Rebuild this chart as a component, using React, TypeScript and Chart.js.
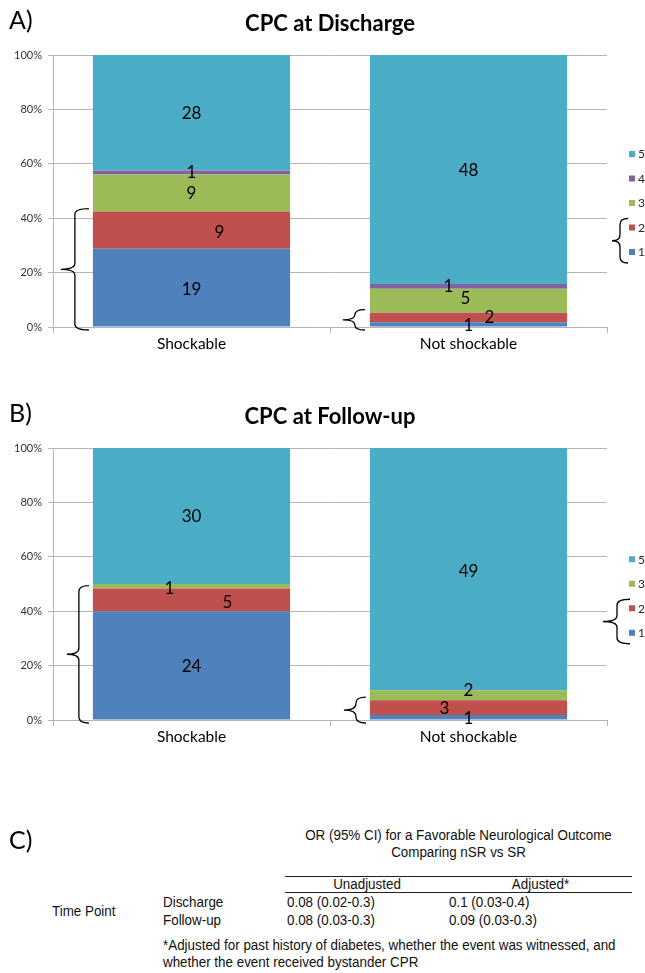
import React, { useEffect, useRef } from "react";
import { Chart, registerables } from "chart.js";
Chart.register(...registerables);

// ---------- data ----------
const categories = ["Shockable", "Not shockable"];
const yTickLabels = ["0%", "20%", "40%", "60%", "80%", "100%"];

const dischargeLevels = ["1", "2", "3", "4", "5"];
const dischargeCpc1 = [19, 1];
const dischargeCpc2 = [9, 2];
const dischargeCpc3 = [9, 5];
const dischargeCpc4 = [1, 1];
const dischargeCpc5 = [28, 48];

const followupLevels = ["1", "2", "3", "5"];
const followupCpc1 = [24, 1];
const followupCpc2 = [5, 3];
const followupCpc3 = [1, 2];
const followupCpc5 = [30, 49];

// ---------- styles ----------
const levelColors: Record<string, string> = {
  "1": "#4F81BD",
  "2": "#C0504D",
  "3": "#9BBB59",
  "4": "#8064A2",
  "5": "#4BACC6",
};
const gridColor = "#b5b5b5";
const FONT = "Lato, 'Open Sans', sans-serif";

// label nudges (px) per dataset per category
const dischargeLabelOffsets = [
  [[0, 2], [0, 1]],
  [[28, 2], [21, 0]],
  [[0, 0], [-3, -2]],
  [[0, 0], [-20, 0]],
  [[0, 1], [0, 1]],
];
const followupLabelOffsets = [
  [[0, 1], [0, 1]],
  [[36, 3], [-24, 1]],
  [[-22, 2], [0, -5]],
  [[0, 1], [0, 2]],
];

function brace(ctx: CanvasRenderingContext2D, tipX: number, spineX: number, endX: number, top: number, bottom: number) {
  const tipY = (top + bottom) / 2;
  const r = Math.min(6, (bottom - top) / 4);
  ctx.beginPath();
  ctx.moveTo(endX, top);
  ctx.quadraticCurveTo(spineX, top, spineX, top + r);
  ctx.lineTo(spineX, tipY - r);
  ctx.quadraticCurveTo(spineX, tipY, tipX, tipY);
  ctx.quadraticCurveTo(spineX, tipY, spineX, tipY + r);
  ctx.lineTo(spineX, bottom - r);
  ctx.quadraticCurveTo(spineX, bottom, endX, bottom);
  ctx.stroke();
}

const overlayPlugin = {
  id: "overlay",
  afterDraw(chart: any, _args: any, opts: any) {
    const ctx: CanvasRenderingContext2D = chart.ctx;
    const area = chart.chartArea;
    const yScale = chart.scales.y;
    ctx.save();
    // data labels
    ctx.font = `17px ${FONT}`;
    ctx.fillStyle = "#000";
    ctx.textAlign = "center";
    ctx.textBaseline = "middle";
    chart.data.datasets.forEach((ds: any, di: number) => {
      const meta = chart.getDatasetMeta(di);
      meta.data.forEach((el: any, i: number) => {
        const off = opts.labelOffsets[di][i];
        const p = el.getProps(["x", "y", "base"], true);
        ctx.fillText(String(ds.counts[i]), p.x + off[0], (p.y + p.base) / 2 + off[1]);
      });
    });

    // braces over CPC 1-2 of each bar
    ctx.strokeStyle = "#000";
    ctx.lineWidth = 1.3;
    const m0 = chart.getDatasetMeta(0);
    categories.forEach((_c, i) => {
      const el = m0.data[i];
      const p = el.getProps(["x", "width"], true);
      const left = p.x - p.width / 2;
      const cum = (chart.data.datasets[0].data[i] as number) + (chart.data.datasets[1].data[i] as number);
      const top = yScale.getPixelForValue(cum) - 3;
      const bottom = yScale.getPixelForValue(0) + 3;
      const g = opts.barBraces[i];
      brace(ctx, left + g[0], left + g[1], left + g[2], top, bottom);
    });

    // legend (reversed order)
    const items = chart.data.datasets.map((ds: any) => ({ label: ds.label, color: ds.backgroundColor })).reverse();
    const n = items.length;
    const cy = (area.top + area.bottom) / 2 + 12;
    const step = 24.5;
    ctx.font = `12px ${FONT}`;
    ctx.textAlign = "left";
    ctx.textBaseline = "middle";
    const ys: number[] = [];
    items.forEach((it: any, k: number) => {
      const y = cy + (k - (n - 1) / 2) * step;
      ys.push(y);
      ctx.fillStyle = it.color;
      ctx.fillRect(area.right + 22, y - 3, 6, 6);
      ctx.fillStyle = "#262626";
      ctx.fillText(String(it.label), area.right + 31, y + 0.5);
    });
    const lb = opts.legendBrace;
    brace(ctx, area.right + lb[0], area.right + lb[1], area.right + lb[2], ys[n - 2] - 9, ys[n - 1] + 11);
    ctx.restore();
  },
};

function buildConfig(title: string, levels: string[], series: number[][], labelOffsets: number[][][], barBraces: number[][], legendBrace: number[]) {
  const totals = categories.map((_c, j) => series.reduce((s, arr) => s + arr[j], 0));
  return {
    type: "bar",
    data: {
      labels: categories,
      datasets: levels.map((lvl, i) => ({
        label: lvl,
        data: series[i].map((c, j) => (c / totals[j]) * 100),
        counts: series[i],
        backgroundColor: levelColors[lvl],
        borderWidth: 0,
        barPercentage: 0.712,
        categoryPercentage: 1,
        stack: "s",
      })),
    },
    options: {
      responsive: false,
      animation: false,
      events: [],
      layout: { padding: { left: 0, right: 38, top: 0, bottom: 3 } },
      plugins: {
        legend: { display: false },
        tooltip: { enabled: false },
        title: {
          display: true,
          text: title,
          fullSize: false,
          color: "#000",
          font: { family: FONT, size: 22, weight: "bold", lineHeight: 1.2 },
          padding: { top: 11, bottom: 17.6 },
        },
        overlay: { labelOffsets, barBraces, legendBrace },
      },
      scales: {
        x: {
          stacked: true,
          offset: true,
          grid: { offset: true, drawOnChartArea: false, drawTicks: true, tickLength: 6, color: gridColor },
          border: { color: gridColor },
          ticks: { color: "#000", font: { family: FONT, size: 15.5 }, padding: 2 },
          afterFit: (a: any) => { a.height = 40; },
        },
        y: {
          stacked: true,
          min: 0,
          max: 100,
          grid: { color: gridColor, tickLength: 5 },
          border: { color: gridColor },
          ticks: {
            stepSize: 20,
            color: "#333",
            padding: 6,
            font: { family: FONT, size: 11 },
            callback: (_v: any, idx: number) => yTickLabels[idx],
          },
          afterFit: (a: any) => { a.width = 53; },
        },
      },
    },
    plugins: [overlayPlugin],
  };
}

function ChartPanel({ config, top }: { config: any; top: number }) {
  const ref = useRef<HTMLCanvasElement | null>(null);
  useEffect(() => {
    const chart = new Chart(ref.current as HTMLCanvasElement, config);
    return () => chart.destroy();
  }, []);
  return (
    <div style={{ position: "absolute", left: 0, top, width: 645, height: 370 }}>
      <canvas ref={ref} width={645} height={370} style={{ display: "block" }} />
    </div>
  );
}

const dischargeConfig = buildConfig(
  "CPC at Discharge",
  dischargeLevels,
  [dischargeCpc1, dischargeCpc2, dischargeCpc3, dischargeCpc4, dischargeCpc5],
  dischargeLabelOffsets,
  [[-32, -18, -4], [-27, -15, -5]],
  [5, 13, 21]
);
const followupConfig = buildConfig(
  "CPC at Follow-up",
  followupLevels,
  [followupCpc1, followupCpc2, followupCpc3, followupCpc5],
  followupLabelOffsets,
  [[-26, -14, -4], [-26, -14, -4]],
  [-4, 10, 23]
);

const SANS = "'Liberation Sans', Arial, sans-serif";

function T({ x, y, children, w, align = "left" }: any) {
  return (
    <div
      style={{
        position: "absolute",
        left: x,
        top: y - 9,
        width: w,
        height: 18,
        lineHeight: "18px",
        fontSize: 13.4,
        fontFamily: SANS,
        color: "#111",
        whiteSpace: "nowrap",
        textAlign: align,
        transform: "scaleY(1.08)",
      }}
    >
      {children}
    </div>
  );
}

export default function App() {
  return (
    <div style={{ position: "fixed", left: 0, top: 0, width: 645, height: 973, overflow: "hidden", background: "#fff" }}>
      <ChartPanel config={dischargeConfig} top={0} />
      <ChartPanel config={followupConfig} top={393} />
      <div style={{ position: "absolute", left: 9, top: 4, fontFamily: FONT, fontSize: 25, lineHeight: "30px" }}>A)</div>
      <div style={{ position: "absolute", left: 9, top: 397, fontFamily: FONT, fontSize: 25, lineHeight: "30px" }}>B)</div>
      <div style={{ position: "absolute", left: 9, top: 824, fontFamily: FONT, fontSize: 25, lineHeight: "30px" }}>C)</div>

      <T x={285} y={836} w={347} align="center">OR (95% CI) for a Favorable Neurological Outcome</T>
      <T x={285} y={853} w={347} align="center">Comparing nSR vs SR</T>
      <div style={{ position: "absolute", left: 285, top: 876, width: 347, height: 1, background: "#222" }} />
      <T x={285} y={885} w={164} align="center">Unadjusted</T>
      <T x={449} y={885} w={183} align="center">Adjusted*</T>
      <div style={{ position: "absolute", left: 285, top: 892, width: 347, height: 1, background: "#222" }} />
      <T x={52} y={912}>Time Point</T>
      <T x={163} y={903}>Discharge</T>
      <T x={163} y={921}>Follow-up</T>
      <T x={287} y={903}>0.08 (0.02-0.3)</T>
      <T x={449} y={903}>0.1 (0.03-0.4)</T>
      <T x={287} y={921}>0.08 (0.03-0.3)</T>
      <T x={449} y={921}>0.09 (0.03-0.3)</T>
      <T x={163} y={946}>*Adjusted for past history of diabetes, whether the event was witnessed, and</T>
      <T x={163} y={963}>whether the event received bystander CPR</T>
    </div>
  );
}
